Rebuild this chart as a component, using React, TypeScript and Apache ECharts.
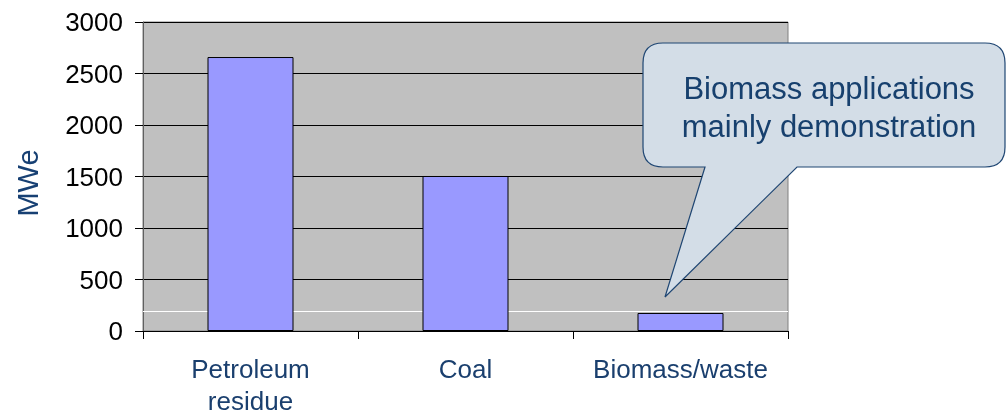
import React, { useEffect, useRef } from "react";
import * as echarts from "echarts";

const categories = ["Petroleum\nresidue", "Coal", "Biomass/waste"];
const values = [2660, 1505, 175];
const yTicks = [0, 500, 1000, 1500, 2000, 2500, 3000];
const whiteLineValue = 190;
const yAxisTitle = "MWe";
const calloutLines = ["Biomass applications", "mainly demonstration"];

const CALLOUT_D =
  "M 663 43 L 985 43 Q 1005 43 1005 63 L 1005 147 Q 1005 167 985 167 L 797 167 L 665 297 L 705 167 L 663 167 Q 643 167 643 147 L 643 63 Q 643 43 663 43 Z";

let registered = false;

export default function App() {
  const ref = useRef<HTMLDivElement>(null);
  useEffect(() => {
    if (!ref.current) return;
    if (!registered) {
      echarts.graphic.registerShape("callout", echarts.graphic.extendPath(CALLOUT_D, {}));
      registered = true;
    }
    const chart = echarts.init(ref.current, null, { renderer: "svg" });
    const font = "'Liberation Sans', Arial, sans-serif";
    chart.setOption({
      animation: false,
      textStyle: { fontFamily: font },
      grid: {
        left: 143,
        right: 218,
        top: 22,
        bottom: 84,
        outerBoundsMode: "none",
        containLabel: false,
        show: true,
        backgroundColor: "#c0c0c0",
        borderColor: "#808080",
        borderWidth: 1,
      },
      xAxis: {
        type: "category",
        data: categories,
        axisLine: { lineStyle: { color: "#000", width: 1 } },
        axisTick: { show: true, length: 8, lineStyle: { color: "#000" } },
        axisLabel: {
          interval: 0,
          color: "#1a3f6e",
          fontSize: 26,
          fontFamily: font,
          margin: 22,
          lineHeight: 32,
        },
      },
      yAxis: {
        type: "value",
        min: yTicks[0],
        max: yTicks[yTicks.length - 1],
        interval: 500,
        axisLine: { show: true, lineStyle: { color: "#606060", width: 1 } },
        axisTick: { show: true, length: 8, lineStyle: { color: "#000" } },
        axisLabel: {
          color: "#000",
          fontSize: 26,
          fontFamily: font,
          margin: 20,
          formatter: (v: number) => String(v),
        },
        splitLine: { show: true, lineStyle: { color: "#000", width: 1 } },
      },
      series: [
        {
          type: "bar",
          data: values,
          barWidth: "40%",
          z: 3,
          itemStyle: { color: "#9999ff", borderColor: "#000", borderWidth: 1 },
          markLine: {
            z: 1,
            silent: true,
            symbol: "none",
            label: { show: false },
            lineStyle: { color: "#ffffff", width: 1, type: "solid" },
            data: [{ yAxis: whiteLineValue }],
          },
        },
      ],
      graphic: [
        {
          type: "text",
          x: 28,
          y: 183,
          rotation: Math.PI / 2,
          style: {
            text: yAxisTitle,
            fill: "#174073",
            fontSize: 29,
            fontFamily: font,
            align: "center",
            verticalAlign: "middle",
          },
        },
        {
          type: "callout",
          x: 0,
          y: 0,
          z: 100,
          style: { fill: "#d3dde7", stroke: "#1f4673", lineWidth: 1.2 },
        },
        {
          type: "text",
          x: 829,
          y: 107,
          z: 101,
          style: {
            text: calloutLines.join("\n"),
            fill: "#17406e",
            fontSize: 31,
            fontFamily: font,
            align: "center",
            verticalAlign: "middle",
            lineHeight: 38,
          },
        },
      ],
    });
    return () => chart.dispose();
  }, []);
  return (
    <div
      ref={ref}
      style={{ position: "fixed", left: 0, top: 0, width: 1006, height: 415 }}
    />
  );
}
